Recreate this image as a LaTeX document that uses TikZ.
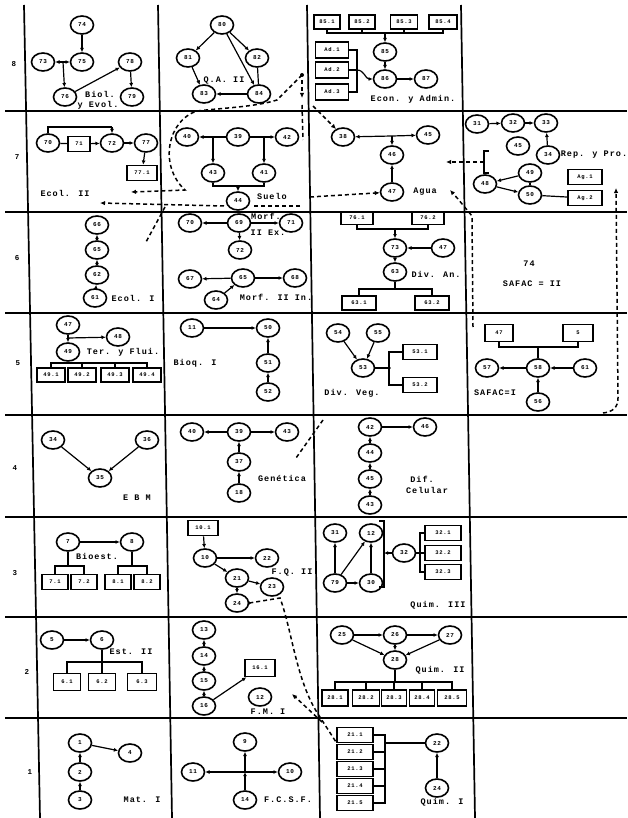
\documentclass[tikz,border=0pt]{standalone}
\usepackage{fontspec}
\newfontfamily\typ[LetterSpace=12]{Liberation Mono}
\usetikzlibrary{arrows.meta,shapes.geometric}
\begin{document}
\begin{tikzpicture}[x=1pt,y=-1pt,
  nd/.style={ellipse,draw,line width=1.6pt,minimum width=23pt,minimum height=18pt,inner sep=0pt,font=\typ\bfseries\fontsize{6}{6}\selectfont},
  bx/.style={rectangle,draw,line width=1.6pt,minimum width=28pt,minimum height=15pt,inner sep=0pt,font=\typ\bfseries\fontsize{5.5}{6}\selectfont},
  lb/.style={inner sep=0pt,font=\typ\bfseries\fontsize{8.5}{9}\selectfont},
  rl/.style={inner sep=0pt,font=\typ\bfseries\fontsize{7.5}{8}\selectfont},
  ed/.style={line width=1.2pt},
  ar/.style={line width=1.2pt,-{Latex[length=4.2pt,width=4pt]}},
  gr/.style={line width=1.7pt},
  dsh/.style={line width=1.5pt,dash pattern=on 4pt off 3pt},
  dar/.style={dsh,-{Latex[length=5pt,width=4.5pt]}}]
\useasboundingbox[fill=white] (0,0) rectangle (627,818);

% grid
\draw[gr] (24,5) -- (40,818);
\draw[gr] (158,5) -- (172,818);
\draw[gr] (307,5) -- (320,818);
\draw[gr] (461,5) -- (475,818);
\foreach \yy in {111,212,313,415,517,617,718} \draw[gr] (5,\yy) -- (627,\yy);

% row labels
\node[rl] (L8) at (14,64) {8};
\node[rl] (L7) at (17,157) {7};
\node[rl] (L6) at (17,258) {6};
\node[rl] (L5) at (18,363) {5};
\node[rl] (L4) at (15,468) {4};
\node[rl] (L3) at (15,573) {3};
\node[rl] (L2) at (27,672) {2};
\node[rl] (L1) at (30,772) {1};

% ---------- row 8
\node[nd] (a1) at (82,25) {74};
\node[nd] (a2) at (43,62) {73};
\node[nd] (a3) at (82,62) {75};
\node[nd] (a4) at (65,97) {76};
\node[nd] (a5) at (130,62) {78};
\node[nd] (a6) at (132,97) {79};
\coordinate (aj) at (63,62);
\draw[ar] (a1) -- (a3);
\draw[ar] (aj) -- (a2);
\draw[ar] (aj) -- (a3);
\draw[ar] (aj) -- (a4);
\draw[ar] (a4) -- (a5);
\draw[ar] (a5) -- (a6);
\node[lb] (ta1) at (100,94) {Biol.};
\node[lb] (ta2) at (98,105) {y Evol.};

\node[nd] (b1) at (222,25) {80};
\node[nd] (b2) at (188,58) {81};
\node[nd] (b3) at (257,58) {82};
\node[nd] (b4) at (204,94) {83};
\node[nd] (b5) at (259,94) {84};
\draw[ar] (b1) -- (b2);
\draw[ar] (b1) -- (b3);
\draw[ar] (b1) -- (b5);
\draw[ed] (b3) -- (b5);
\draw[ar] (b2) -- (b4);
\draw[ar] (b5) -- (b4);
\node[lb] (tb) at (224,80) {Q.A. II};

\node[bx,minimum width=26pt,minimum height=14pt] (c1) at (327,22) {85.1};
\node[bx,minimum width=26pt,minimum height=14pt] (c2) at (362,22) {85.2};
\node[bx,minimum width=27pt,minimum height=14pt] (c3) at (404,22) {85.3};
\node[bx,minimum width=28pt,minimum height=14pt] (c4) at (443,22) {85.4};
\coordinate (cb) at (385,33);
\draw[ed] (c1.south) -- (c1.south |- cb) -- (c4.south |- cb) -- (c4.south);
\draw[ed] (c2.south) -- (c2.south |- cb);
\draw[ed] (c3.south) -- (c3.south |- cb);
\node[nd] (c5) at (385,52) {85};
\node[nd] (c6) at (385,79) {86};
\node[nd] (c7) at (426,79) {87};
\draw[ar] (cb) -- (c5);
\draw[ar] (c5) -- (c6);
\draw[ar] (c6) -- (c7);
\node[bx,minimum width=33pt,minimum height=16pt] (c8) at (332,50) {Ad.1};
\node[bx,minimum width=33pt,minimum height=16pt] (c9) at (332,70) {Ad.2};
\node[bx,minimum width=33pt,minimum height=16pt] (c10) at (332,92) {Ad.3};
\coordinate (cbr) at (357,70);
\draw[ed] (c8.east) -- (357,50) -- (357,92) -- (c10.east);
\draw[ed] (c9.east) -- (cbr);
\draw[ar] (cbr) to[out=0,in=180] (c6.west);
\node[lb] (tc) at (413,99) {Econ. y Admin.};

% ---------- row 7
\node[nd] (d1) at (48,143) {70};
\node[bx,minimum width=22pt] (d2) at (79,144) {71};
\node[nd] (d3) at (112,143) {72};
\node[nd] (d4) at (146,143) {77};
\node[bx,minimum width=30pt] (d5) at (142,173) {77.1};
\draw[ed] (d1.north) -- (48,127) -- (112,127);
\draw[ar] (112,127) -- (d3.north);
\draw[ed] (d1) -- (d2);
\draw[ar] (d2) -- (d3);
\draw[ar] (d3) -- (d4);
\draw[ar] (d4) -- (d5);
\node[lb] (td) at (65,193) {Ecol. II};

\node[nd] (s1) at (187,137) {40};
\node[nd] (s2) at (238,137) {39};
\node[nd] (s3) at (287,137) {42};
\node[nd] (s4) at (213,173) {43};
\node[nd] (s5) at (264,173) {41};
\node[nd] (s6) at (238,201) {44};
\draw[ar] (s2) -- (s1);
\draw[ar] (s2) -- (s3);
\draw[ar] (213,137) -- (s4);
\draw[ar] (264,137) -- (s5);
\draw[ed] (s4.south) -- (213,186) -- (264,186) -- (s5.south);
\draw[ar] (238,186) -- (s6);
\node[lb] (ts) at (272,196) {Suelo};

\node[nd] (g1) at (343,137) {38};
\node[nd] (g2) at (428,135) {45};
\node[nd] (g3) at (392,155) {46};
\node[nd] (g4) at (392,192) {47};
\coordinate (gj) at (392,136);
\draw[ar] (gj) -- (g1);
\draw[ar] (gj) -- (g2);
\draw[ar] (gj) -- (g3);
\draw[ar] (g4) -- (g3);
\node[lb] (tg) at (425,192) {Agua};

\node[nd] (r1) at (477,124) {31};
\node[nd] (r2) at (513,123) {32};
\node[nd] (r3) at (546,123) {33};
\node[nd] (r4) at (518,146) {45};
\node[nd] (r5) at (548,155) {34};
\node[nd] (r6) at (485,184) {48};
\node[nd] (r7) at (530,173) {49};
\node[nd] (r8) at (530,195) {50};
\node[bx,minimum width=34pt] (rb1) at (585,177) {Ag.1};
\node[bx,minimum width=34pt] (rb2) at (585,198) {Ag.2};
\draw[ar] (r1) -- (r2);
\draw[ar] (r2) -- (r3);
\draw[ar] (r5) -- (r3);
\draw[ar] (r7) -- (r6);
\draw[ar] (r6) -- (r8);
\draw[ed] (r8) -- (r7);
\draw[ed] (rb2) -- (r8);
\draw[ed] (489,151) -- (484,151) -- (484,173) -- (489,173);
\coordinate (rbr) at (484,162);
\node[lb] (tr) at (594,155) {Rep. y Pro.};

% ---------- row 6
\node[nd] (e1) at (97,225) {66};
\node[nd] (e2) at (97,250) {65};
\node[nd] (e3) at (97,275) {62};
\node[nd] (e4) at (95,298) {61};
\draw[ar] (e2) -- (e1);
\draw[ar] (e3) -- (e2);
\draw[ar] (e4) -- (e3);
\node[lb] (te) at (133,298) {Ecol. I};

\node[nd] (f1) at (190,223) {70};
\node[nd] (f2) at (239,223) {69};
\node[nd] (f3) at (291,223) {71};
\node[nd] (f4) at (240,250) {72};
\node[nd] (f5) at (190,279) {67};
\node[nd] (f6) at (243,278) {65};
\node[nd] (f7) at (295,278) {68};
\node[nd] (f8) at (216,300) {64};
\draw[ar] (f2) -- (f1);
\draw[ar] (f2) -- (f3);
\draw[ar] (f2) -- (f4);
\draw[ar] (f6) -- (f5);
\draw[ar] (f6) -- (f7);
\draw[ar] (f8) -- (f6);
\node[lb] (tf1) at (266,216) {Morf.};
\node[lb] (tf2) at (268,233) {II Ex.};
\node[lb] (tf3) at (276,297) {Morf. II In.};

\node[bx,minimum width=32pt,minimum height=13pt] (h1) at (357,218) {76.1};
\node[bx,minimum width=32pt,minimum height=13pt] (h2) at (428,218) {76.2};
\coordinate (hb1) at (395,229);
\draw[ed] (h1.south) -- (h1.south |- hb1) -- (h2.south |- hb1) -- (h2.south);
\node[nd] (h3) at (395,248) {73};
\node[nd] (h4) at (443,248) {47};
\node[nd] (h5) at (395,272) {63};
\draw[ar] (hb1) -- (h3);
\draw[ar] (h4) -- (h3);
\draw[ar] (h3) -- (h5);
\node[bx,minimum width=34pt,minimum height=14pt] (h6) at (359,303) {63.1};
\node[bx,minimum width=34pt,minimum height=14pt] (h7) at (432,303) {63.2};
\coordinate (hb2) at (395,289);
\draw[ed] (h5) -- (hb2);
\draw[ed] (h6.north) -- (h6.north |- hb2) -- (h7.north |- hb2) -- (h7.north);
\node[lb] (th) at (436,274) {Div. An.};

\node[lb] (tq1) at (529,264) {74};
\node[lb] (tq2) at (532,284) {SAFAC = II};

% ---------- row 5
\node[nd] (i1) at (68,325) {47};
\node[nd] (i2) at (118,337) {48};
\node[nd] (i3) at (68,352) {49};
\coordinate (ij) at (68,338);
\draw[ar] (i1) -- (i3);
\draw[ar] (ij) -- (i2);
\node[bx,minimum width=28pt,minimum height=14pt] (i4) at (51,375) {49.1};
\node[bx,minimum width=28pt,minimum height=14pt] (i5) at (82,375) {49.2};
\node[bx,minimum width=28pt,minimum height=14pt] (i6) at (115,375) {49.3};
\node[bx,minimum width=28pt,minimum height=14pt] (i7) at (147,375) {49.4};
\coordinate (ib) at (68,363);
\draw[ed] (i3) -- (ib);
\draw[ed] (i4.north) -- (i4.north |- ib) -- (i7.north |- ib) -- (i7.north);
\draw[ed] (i5.north) -- (i5.north |- ib);
\draw[ed] (i6.north) -- (i6.north |- ib);
\node[lb] (ti) at (123,352) {Ter. y Flui.};

\node[nd] (k1) at (192,328) {11};
\node[nd] (k2) at (268,328) {50};
\node[nd] (k3) at (268,363) {51};
\node[nd] (k4) at (268,392) {52};
\draw[ar] (k1) -- (k2);
\draw[ar] (k3) -- (k2);
\draw[ar] (k4) -- (k3);
\node[lb] (tk) at (195,363) {Bioq. I};

\node[nd] (m1) at (338,333) {54};
\node[nd] (m2) at (378,333) {55};
\node[nd] (m3) at (363,368) {53};
\node[bx,minimum width=34pt] (m4) at (420,352) {53.1};
\node[bx,minimum width=34pt] (m5) at (420,385) {53.2};
\coordinate (mj) at (389,368);
\draw[ar] (m1) -- (m3);
\draw[ar] (m2) -- (m3);
\draw[ed] (m3) -- (mj);
\draw[ed] (m4.west) -- (389,352) -- (389,385) -- (m5.west);
\fill (mj) circle (1.8pt);
\node[lb] (tm) at (352,393) {Div. Veg.};

\node[bx,minimum width=28pt,minimum height=17pt] (p1) at (499,333) {47};
\node[bx,minimum width=30pt,minimum height=17pt] (p2) at (578,333) {5};
\coordinate (pb) at (538,347);
\draw[ed] (p1.south) -- (p1.south |- pb) -- (p2.south |- pb) -- (p2.south);
\node[nd] (p3) at (487,368) {57};
\node[nd] (p4) at (538,368) {58};
\node[nd] (p5) at (585,368) {61};
\node[nd] (p6) at (538,402) {56};
\draw[ed] (pb) -- (p4);
\draw[ar] (p4) -- (p3);
\draw[ar] (p5) -- (p4);
\draw[ar] (p6) -- (p4);
\node[lb] (tp) at (495,393) {SAFAC=I};

% ---------- row 4
\node[nd] (n34) at (53,440) {34};
\node[nd] (n36) at (147,440) {36};
\node[nd] (n35) at (100,478) {35};
\draw[ar] (n34) -- (n35);
\draw[ar] (n36) -- (n35);
\node[lb] (tn) at (137,498) {E B M};

\node[nd] (t1) at (192,432) {40};
\node[nd] (t2) at (239,432) {39};
\node[nd] (t3) at (287,432) {43};
\node[nd] (t4) at (239,462) {37};
\node[nd] (t5) at (239,493) {18};
\draw[ar] (t2) -- (t1);
\draw[ar] (t2) -- (t3);
\draw[ar] (t4) -- (t2);
\draw[ar] (t5) -- (t4);
\node[lb] (tt) at (282,478) {Genética};

\node[nd] (u1) at (370,427) {42};
\node[nd] (u2) at (425,427) {46};
\node[nd] (u3) at (370,453) {44};
\node[nd] (u4) at (370,479) {45};
\node[nd] (u5) at (370,505) {43};
\draw[ar] (u1) -- (u2);
\draw[ar] (u3) -- (u1);
\draw[ar] (u4) -- (u3);
\draw[ar] (u5) -- (u4);
\node[lb] (tu1) at (422,479) {Dif.};
\node[lb] (tu2) at (427,490) {Celular};

% ---------- row 3
\node[nd] (v7) at (68,542) {7};
\node[nd] (v8) at (132,542) {8};
\draw[ar] (v7) -- (v8);
\node[bx,minimum width=26pt] (v1) at (55,582) {7.1};
\node[bx,minimum width=26pt] (v2) at (84,582) {7.2};
\node[bx,minimum width=26pt] (v3) at (118,582) {8.1};
\node[bx,minimum width=26pt] (v4) at (147,582) {8.2};
\coordinate (vb1) at (68,566);
\coordinate (vb2) at (132,566);
\draw[ed] (v7) -- (vb1);
\draw[ed] (v1.north) -- (v1.north |- vb1) -- (v2.north |- vb1) -- (v2.north);
\draw[ed] (v8) -- (vb2);
\draw[ed] (v3.north) -- (v3.north |- vb2) -- (v4.north |- vb2) -- (v4.north);
\node[lb] (tv) at (97,556) {Bioest.};

\node[bx,minimum width=30pt] (w0) at (203,528) {10.1};
\node[nd] (w1) at (205,558) {10};
\node[nd] (w2) at (267,558) {22};
\node[nd] (w3) at (237,578) {21};
\node[nd] (w4) at (272,587) {23};
\node[nd] (w5) at (237,603) {24};
\draw[ar] (w0) -- (w1);
\draw[ar] (w1) -- (w2);
\draw[ar] (w1) -- (w3);
\draw[ar] (w3) -- (w4);
\draw[ar] (w3) -- (w5);
\node[lb] (tw) at (292,572) {F.Q. II};

\node[nd] (aa1) at (335,533) {31};
\node[nd] (aa2) at (371,533) {12};
\node[nd] (aa3) at (335,583) {79};
\node[nd] (aa4) at (371,583) {30};
\node[nd] (aa5) at (404,553) {32};
\node[bx,minimum width=36pt] (aa6) at (443,533) {32.1};
\node[bx,minimum width=36pt] (aa7) at (443,553) {32.2};
\node[bx,minimum width=36pt] (aa8) at (443,572) {32.3};
\draw[ar] (aa3) -- (aa1);
\draw[ar] (aa3) -- (aa2);
\draw[ar] (aa4) -- (aa2);
\draw[ar] (aa3) -- (aa4);
\draw[ed] (379,521) -- (384,521) -- (384,587) -- (379,587);
\coordinate (abr) at (384,553);
\draw[ar] (aa5) -- (abr);
\draw[ed] (aa6.west) -- (420,533) -- (420,572) -- (aa8.west);
\draw[ed] (aa5) -- (aa7.west);
\node[lb] (taa) at (438,605) {Quim. III};

% ---------- row 2
\node[nd] (x5) at (52,640) {5};
\node[nd] (x6) at (102,640) {6};
\draw[ar] (x5) -- (x6);
\node[bx,minimum width=27pt,minimum height=17pt] (x1) at (67,682) {6.1};
\node[bx,minimum width=27pt,minimum height=17pt] (x2) at (102,682) {6.2};
\node[bx,minimum width=29pt,minimum height=17pt] (x3) at (142,682) {6.3};
\coordinate (xb) at (102,662);
\draw[ed] (x6) -- (xb);
\draw[ed] (x1.north) -- (x1.north |- xb) -- (x3.north |- xb) -- (x3.north);
\draw[ed] (x2.north) -- (xb);
\node[lb] (tx) at (131,652) {Est. II};

\node[nd] (y1) at (204,630) {13};
\node[nd] (y2) at (204,656) {14};
\node[nd] (y3) at (204,681) {15};
\node[nd] (y4) at (204,706) {16};
\node[bx,minimum width=30pt,minimum height=17pt] (y5) at (260,668) {16.1};
\node[nd] (y6) at (260,697) {12};
\draw[ar] (y2) -- (y1);
\draw[ar] (y3) -- (y2);
\draw[ar] (y4) -- (y3);
\draw[ar] (y4) -- (y5);
\node[lb] (ty) at (268,712) {F.M. I};

\node[nd] (z1) at (342,635) {25};
\node[nd] (z2) at (395,635) {26};
\node[nd] (z3) at (450,635) {27};
\node[nd] (z4) at (395,660) {28};
\draw[ar] (z1) -- (z2);
\draw[ar] (z2) -- (z3);
\draw[ar] (z1) -- (z4);
\draw[ar] (z3) -- (z4);
\draw[ar] (z2) -- (z4);
\node[bx,minimum width=26pt,minimum height=16pt] (z5) at (335,698) {28.1};
\node[bx,minimum width=27pt,minimum height=16pt] (z6) at (366,698) {28.2};
\node[bx,minimum width=25pt,minimum height=16pt] (z7) at (394,698) {28.3};
\node[bx,minimum width=25pt,minimum height=16pt] (z8) at (422,698) {28.4};
\node[bx,minimum width=29pt,minimum height=16pt] (z9) at (452,698) {28.5};
\coordinate (zb) at (395,682);
\draw[ed] (z4) -- (zb);
\draw[ed] (z5.north) -- (z5.north |- zb) -- (z9.north |- zb) -- (z9.north);
\draw[ed] (z6.north) -- (z6.north |- zb);
\draw[ed] (z7.north) -- (z7.north |- zb);
\draw[ed] (z8.north) -- (z8.north |- zb);
\node[lb] (tz) at (440,670) {Quim. II};

% ---------- row 1
\node[nd] (q1) at (80,743) {1};
\node[nd] (q4) at (130,753) {4};
\node[nd] (q2) at (80,772) {2};
\node[nd] (q3) at (80,800) {3};
\draw[ar] (q1) -- (q4);
\draw[ar] (q2) -- (q1);
\draw[ar] (q3) -- (q2);
\node[lb] (tq) at (142,800) {Mat. I};

\node[nd] (o1) at (245,742) {9};
\node[nd] (o2) at (193,772) {11};
\node[nd] (o3) at (290,772) {10};
\node[nd] (o4) at (245,800) {14};
\coordinate (oj) at (245,772);
\draw[ar] (oj) -- (o2);
\draw[ar] (oj) -- (o3);
\draw[ar] (oj) -- (o1);
\draw[ar] (o4) -- (oj);
\node[lb] (to) at (288,800) {F.C.S.F.};

\node[bx,minimum width=36pt] (Q1) at (355,735) {21.1};
\node[bx,minimum width=36pt] (Q2) at (355,752) {21.2};
\node[bx,minimum width=36pt] (Q3) at (355,769) {21.3};
\node[bx,minimum width=36pt] (Q4) at (355,786) {21.4};
\node[bx,minimum width=36pt] (Q5) at (355,803) {21.5};
\draw[ed] (Q1.east) -- (385,735) -- (385,803) -- (Q5.east);
\draw[ed] (Q2.east) -- (385,752);
\draw[ed] (Q3.east) -- (385,769);
\draw[ed] (Q4.east) -- (385,786);
\node[nd] (Q22) at (437,743) {22};
\node[nd] (Q24) at (437,788) {24};
\coordinate (Qb) at (385,743);
\draw[ed] (Qb) -- (Q22);
\draw[ar] (Q24) -- (Q22);
\node[lb] (tQ) at (442,802) {Quim. I};

% ---------- dashed connectors
\fill (302,75) circle (2pt);
\draw[dar] (302,75) -- (277,100) .. controls (255,107) and (222,108) .. (197,111) .. controls (168,120) and (158,165) .. (185,190) -- (131,192);
\draw[dar] (302,80) -- (302,98);
\draw[dsh] (302,105) -- (303,140);
\draw[dar] (313,106) -- (336,129);
\draw[dsh] (300,206) -- (252,206);
\draw[dar] (224,206) -- (100,203);
\draw[dsh] (165,207) -- (146,242);
\draw[dar] (310,197) -- (g4);
\draw[dar] (rbr) -- (446,162);
\draw[dar] (473,327) -- (472,216) -- (458,199) -- (450,190);
\draw[dar] (603,413) .. controls (612,412) and (618,408) .. (618,398) -- (616,188);
\draw[dsh] (323,420) -- (296,458);
\fill (w5.east) circle (1.6pt);
\draw[dsh] (w5.east) -- (280,598) .. controls (292,630) and (296,680) .. (318,714) -- (336,742);
\draw[dar] (322,722) -- (292,694);
\end{tikzpicture}
\end{document}
